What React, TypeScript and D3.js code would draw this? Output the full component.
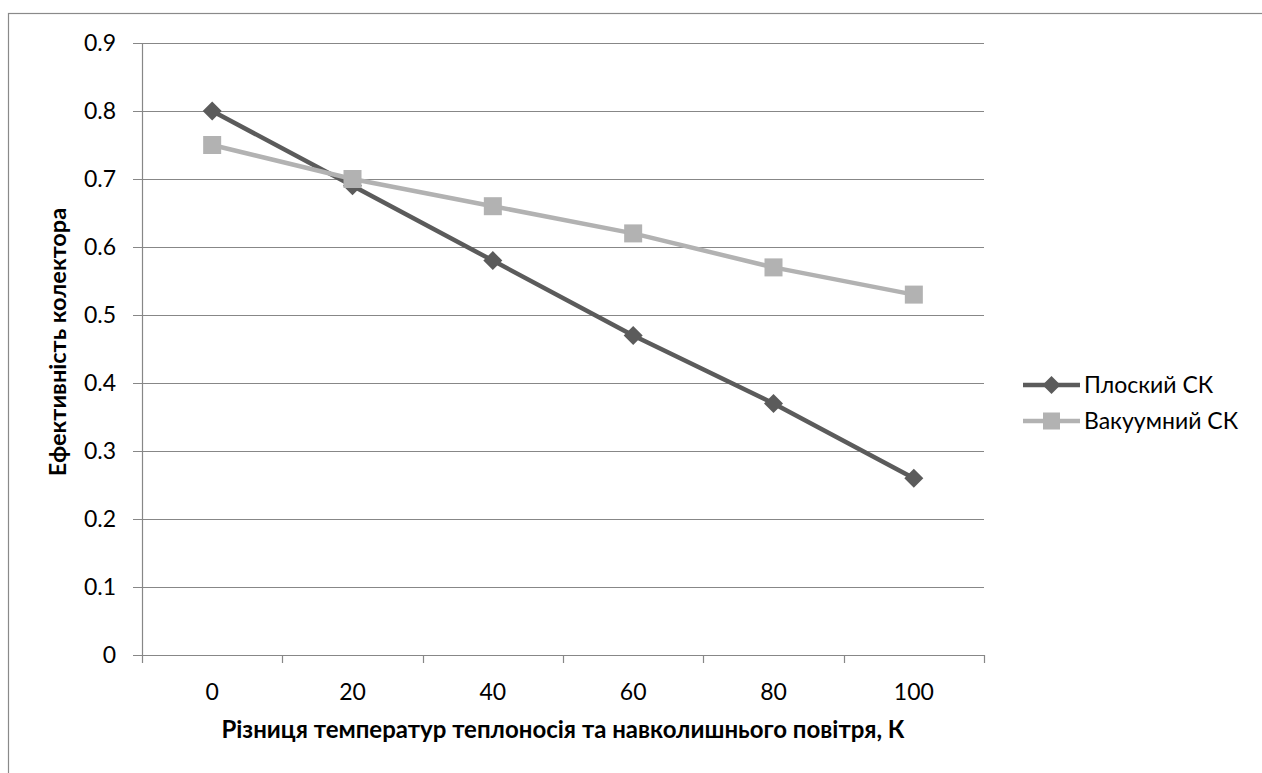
import React from "react";
import * as d3 from "d3";

const categories = ["0", "20", "40", "60", "80", "100"];
const flatValues = [0.8, 0.69, 0.58, 0.47, 0.37, 0.26];
const vacuumValues = [0.75, 0.7, 0.66, 0.62, 0.57, 0.53];
const yTicks = [0, 0.1, 0.2, 0.3, 0.4, 0.5, 0.6, 0.7, 0.8, 0.9];
const seriesNames = ["Плоский СК", "Вакуумний СК"];
const xTitle = "Різниця температур теплоносія та навколишнього повітря, К";
const yTitle = "Ефективність колектора";

const W = 1262;
const H = 773;
const plot = { left: 142, right: 984, top: 43, bottom: 655 };
const FONT = "Lato, 'Open Sans', sans-serif";
const DARK = "#5b5b5b";
const LIGHT = "#b2b2b2";
const GRID = "#878787";

export default function App() {
  const x = d3
    .scaleBand<string>()
    .domain(categories)
    .range([plot.left, plot.right]);
  const y = d3.scaleLinear().domain([0, 0.9]).range([plot.bottom, plot.top]);
  const cx = (c: string) => (x(c) as number) + x.bandwidth() / 2;

  const line = d3
    .line<number>()
    .x((_, i) => cx(categories[i]))
    .y((d) => y(d));

  const diamond = (px: number, py: number, r: number) =>
    `M${px},${py - r}L${px + r},${py}L${px},${py + r}L${px - r},${py}Z`;

  const boundaries = [...categories.map((c) => x(c) as number), plot.right];

  return (
    <svg
      width={W}
      height={H}
      style={{ position: "absolute", left: 0, top: 0, background: "#fff" }}
      fontFamily={FONT}
    >
      {/* chart frame */}
      <rect x={8.5} y={13.5} width={W + 10} height={H + 10} fill="none" stroke="#8a8a8a" strokeWidth={1.2} />

      {/* horizontal gridlines */}
      {yTicks.map((t) => (
        <line
          key={t}
          x1={plot.left - 9}
          x2={plot.right}
          y1={Math.round(y(t)) + 0.5}
          y2={Math.round(y(t)) + 0.5}
          stroke={GRID}
          strokeWidth={1.2}
        />
      ))}
      {/* y axis */}
      <line x1={plot.left + 0.5} x2={plot.left + 0.5} y1={plot.top} y2={plot.bottom} stroke={GRID} strokeWidth={1.2} />
      {/* x axis ticks */}
      {boundaries.map((b, i) => (
        <line key={i} x1={Math.round(b) + 0.5} x2={Math.round(b) + 0.5} y1={plot.bottom} y2={plot.bottom + 8} stroke={GRID} strokeWidth={1.2} />
      ))}

      {/* y tick labels */}
      {yTicks.map((t) => (
        <text
          key={t}
          x={116}
          y={y(t) + 8}
          textAnchor="end"
          fontSize={23}
          fill="#000"
        >
          {t === 0 ? "0" : d3.format(".1f")(t)}
        </text>
      ))}
      {/* x tick labels */}
      {categories.map((c) => (
        <text key={c} x={cx(c)} y={700} textAnchor="middle" fontSize={23} fill="#000">
          {c}
        </text>
      ))}

      {/* axis titles */}
      <text x={(plot.left + plot.right) / 2} y={738} textAnchor="middle" fontSize={24} fontWeight="bold">
        {xTitle}
      </text>
      <text
        transform={`translate(66,${(plot.top + plot.bottom) / 2 - 7}) rotate(-90)`}
        textAnchor="middle"
        fontSize={23.5}
        fontWeight="bold"
      >
        {yTitle}
      </text>

      {/* series */}
      <path d={line(flatValues) as string} fill="none" stroke={DARK} strokeWidth={4.5} strokeLinejoin="round" />
      {flatValues.map((v, i) => (
        <path key={i} d={diamond(cx(categories[i]), y(v), 9.5)} fill={DARK} />
      ))}
      <path d={line(vacuumValues) as string} fill="none" stroke={LIGHT} strokeWidth={4.5} strokeLinejoin="round" />
      {vacuumValues.map((v, i) => (
        <rect key={i} x={cx(categories[i]) - 9} y={y(v) - 9} width={18} height={18} fill={LIGHT} />
      ))}

      {/* legend */}
      <g>
        <line x1={1023} x2={1080} y1={385} y2={385} stroke={DARK} strokeWidth={4.5} />
        <path d={diamond(1051.5, 385, 9)} fill={DARK} />
        <text x={1084} y={385 + 8} fontSize={23}>
          {seriesNames[0]}
        </text>
        <line x1={1023} x2={1080} y1={421} y2={421} stroke={LIGHT} strokeWidth={4.5} />
        <rect x={1043} y={412.5} width={17} height={17} fill={LIGHT} />
        <text x={1084} y={421 + 8} fontSize={23}>
          {seriesNames[1]}
        </text>
      </g>
    </svg>
  );
}
